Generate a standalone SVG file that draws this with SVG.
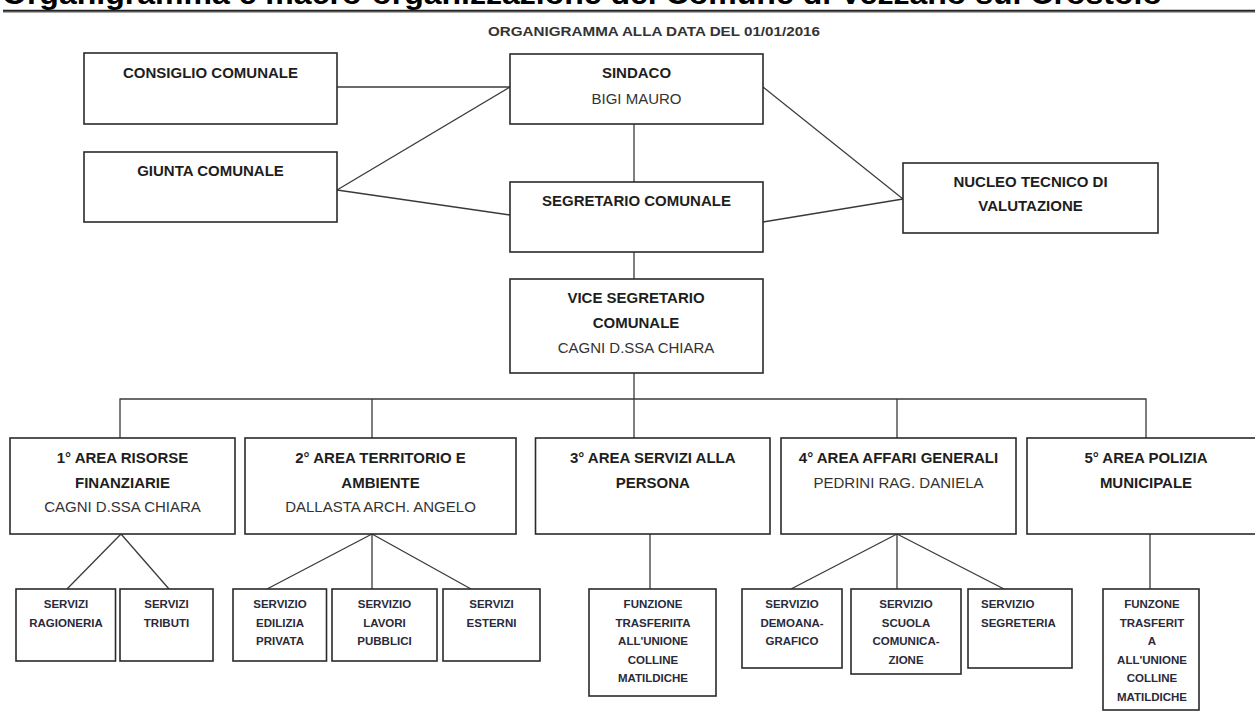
<svg xmlns="http://www.w3.org/2000/svg" width="1255" height="724" viewBox="0 0 1255 724">
<style>
.bx{fill:#fff;stroke:#2a2a2a;stroke-width:1.6}
.ln{stroke:#3a3a3a;stroke-width:1.3;fill:none}
.t{font-family:"Liberation Sans",Arial,sans-serif;font-size:15px;font-weight:bold;fill:#1e1e1e;text-anchor:middle}
.n{font-family:"Liberation Sans",Arial,sans-serif;font-size:15px;fill:#333;text-anchor:middle}
.s{font-family:"Liberation Sans",Arial,sans-serif;font-size:11.5px;font-weight:bold;fill:#2a2a3a;text-anchor:middle}
.sl{font-family:"Liberation Sans",Arial,sans-serif;font-size:11.5px;font-weight:bold;fill:#2a2a3a}
</style>
<rect width="1255" height="724" fill="#fff"/>
<text x="2" y="4" font-family="Liberation Sans,Arial,sans-serif" font-size="30" font-weight="bold" fill="#000" textLength="1160" lengthAdjust="spacingAndGlyphs">Organigramma e macro-organizzazione del Comune di Vezzano sul Crostolo</text>
<line x1="3" y1="10.8" x2="1255" y2="10.8" stroke="#222" stroke-width="2"/>
<line x1="3" y1="12.5" x2="1255" y2="12.5" stroke="#aaa" stroke-width="1"/>
<text x="654" y="36" font-family="Liberation Sans,Arial,sans-serif" font-size="13.5" font-weight="bold" fill="#333" text-anchor="middle" textLength="332" lengthAdjust="spacingAndGlyphs">ORGANIGRAMMA ALLA DATA DEL 01/01/2016</text>

<g id="connectors">
<line class="ln" x1="337" y1="87" x2="510" y2="87"/>
<line class="ln" x1="337" y1="190" x2="510" y2="87"/>
<line class="ln" x1="337" y1="190" x2="510" y2="215"/>
<line class="ln" x1="634" y1="124" x2="634" y2="182"/>
<line class="ln" x1="763" y1="87" x2="903" y2="199"/>
<line class="ln" x1="763" y1="222" x2="903" y2="199"/>
<line class="ln" x1="634" y1="252" x2="634" y2="279"/>
<line class="ln" x1="634" y1="373" x2="634" y2="399"/>
<polyline class="ln" points="120,438 120,399 1146,399 1146,438"/>
<line class="ln" x1="372" y1="399" x2="372" y2="438"/>
<line class="ln" x1="634" y1="399" x2="634" y2="438"/>
<line class="ln" x1="897" y1="399" x2="897" y2="438"/>
<line class="ln" x1="121" y1="534" x2="67" y2="589"/>
<line class="ln" x1="121" y1="534" x2="169" y2="589"/>
<line class="ln" x1="372" y1="534" x2="267" y2="589"/>
<line class="ln" x1="372" y1="534" x2="372" y2="589"/>
<line class="ln" x1="372" y1="534" x2="471" y2="589"/>
<line class="ln" x1="650" y1="534" x2="650" y2="589"/>
<line class="ln" x1="897" y1="534" x2="791" y2="589"/>
<line class="ln" x1="897" y1="534" x2="897" y2="589"/>
<line class="ln" x1="897" y1="534" x2="1004" y2="589"/>
<line class="ln" x1="1150" y1="534" x2="1150" y2="589"/>
</g>

<g id="consiglio"><rect class="bx" x="84" y="53" width="253" height="71"/><text class="t" x="210.5" y="77.5">CONSIGLIO COMUNALE</text></g>
<g id="sindaco"><rect class="bx" x="510" y="54" width="253" height="70"/><text class="t" x="636.5" y="77.5">SINDACO</text><text class="n" x="636.5" y="103.5">BIGI MAURO</text></g>
<g id="giunta"><rect class="bx" x="84" y="152" width="253" height="70"/><text class="t" x="210.5" y="175.5">GIUNTA COMUNALE</text></g>
<g id="segretario"><rect class="bx" x="510" y="182" width="253" height="70"/><text class="t" x="636.5" y="206">SEGRETARIO COMUNALE</text></g>
<g id="nucleo"><rect class="bx" x="903" y="163" width="255" height="70"/><text class="t" x="1030.5" y="186.5">NUCLEO TECNICO DI</text><text class="t" x="1030.5" y="210.5">VALUTAZIONE</text></g>
<g id="vice"><rect class="bx" x="510" y="279" width="253" height="94"/><text class="t" x="636" y="302.5">VICE SEGRETARIO</text><text class="t" x="636" y="327.5">COMUNALE</text><text class="n" x="636" y="352.5">CAGNI D.SSA CHIARA</text></g>

<g id="area1"><rect class="bx" x="10" y="438" width="225" height="96"/><text class="t" x="122.5" y="462.5">1° AREA RISORSE</text><text class="t" x="122.5" y="487.5">FINANZIARIE</text><text class="n" x="122.5" y="511.5">CAGNI D.SSA CHIARA</text></g>
<g id="area2"><rect class="bx" x="245" y="438" width="271" height="96"/><text class="t" x="380.5" y="462.5">2° AREA TERRITORIO E</text><text class="t" x="380.5" y="487.5">AMBIENTE</text><text class="n" x="380.5" y="511.5">DALLASTA ARCH. ANGELO</text></g>
<g id="area3"><rect class="bx" x="535.5" y="438" width="234.5" height="96"/><text class="t" x="652.75" y="462.5">3° AREA SERVIZI ALLA</text><text class="t" x="652.75" y="487.5">PERSONA</text></g>
<g id="area4"><rect class="bx" x="781" y="438" width="235" height="96"/><text class="t" x="898.5" y="462.5">4° AREA AFFARI GENERALI</text><text class="n" x="898.5" y="487.5">PEDRINI RAG. DANIELA</text></g>
<g id="area5"><rect class="bx" x="1027" y="438" width="240" height="96"/><text class="t" x="1146" y="462.5">5° AREA POLIZIA</text><text class="t" x="1146" y="487.5">MUNICIPALE</text></g>

<g id="ragioneria"><rect class="bx" x="16" y="589" width="99.5" height="72"/><text class="s" x="66" y="608">SERVIZI</text><text class="s" x="66" y="626.5">RAGIONERIA</text></g>
<g id="tributi"><rect class="bx" x="120" y="589" width="93" height="72"/><text class="s" x="166.5" y="608">SERVIZI</text><text class="s" x="166.5" y="626.5">TRIBUTI</text></g>
<g id="edilizia"><rect class="bx" x="233" y="589" width="93.5" height="72"/><text class="s" x="280" y="608">SERVIZIO</text><text class="s" x="280" y="626.5">EDILIZIA</text><text class="s" x="280" y="645">PRIVATA</text></g>
<g id="lavori"><rect class="bx" x="332" y="589" width="105" height="72"/><text class="s" x="384.5" y="608">SERVIZIO</text><text class="s" x="384.5" y="626.5">LAVORI</text><text class="s" x="384.5" y="645">PUBBLICI</text></g>
<g id="esterni"><rect class="bx" x="443" y="589" width="97" height="72"/><text class="s" x="491.5" y="608">SERVIZI</text><text class="s" x="491.5" y="626.5">ESTERNI</text></g>
<g id="funzione3"><rect class="bx" x="589" y="589" width="127" height="107"/><text class="s" x="653" y="608">FUNZIONE</text><text class="s" x="653" y="626.5">TRASFERIITA</text><text class="s" x="653" y="645">ALL'UNIONE</text><text class="s" x="653" y="663.5">COLLINE</text><text class="s" x="653" y="682">MATILDICHE</text></g>
<g id="demoana"><rect class="bx" x="742" y="589" width="100" height="79"/><text class="s" x="792" y="608">SERVIZIO</text><text class="s" x="792" y="626.5">DEMOANA-</text><text class="s" x="792" y="645">GRAFICO</text></g>
<g id="scuola"><rect class="bx" x="851" y="589" width="110" height="85"/><text class="s" x="906" y="608">SERVIZIO</text><text class="s" x="906" y="626.5">SCUOLA</text><text class="s" x="906" y="645">COMUNICA-</text><text class="s" x="906" y="663.5">ZIONE</text></g>
<g id="segreteria"><rect class="bx" x="968" y="589" width="104" height="79"/><text class="sl" x="981" y="608">SERVIZIO</text><text class="sl" x="981" y="626.5">SEGRETERIA</text></g>
<g id="funzone5"><rect class="bx" x="1103" y="589" width="96" height="121"/><text class="s" x="1152" y="608">FUNZONE</text><text class="s" x="1152" y="626.5">TRASFERIT</text><text class="s" x="1152" y="645">A</text><text class="s" x="1152" y="663.5">ALL'UNIONE</text><text class="s" x="1152" y="682">COLLINE</text><text class="s" x="1152" y="700.5">MATILDICHE</text></g>
</svg>
